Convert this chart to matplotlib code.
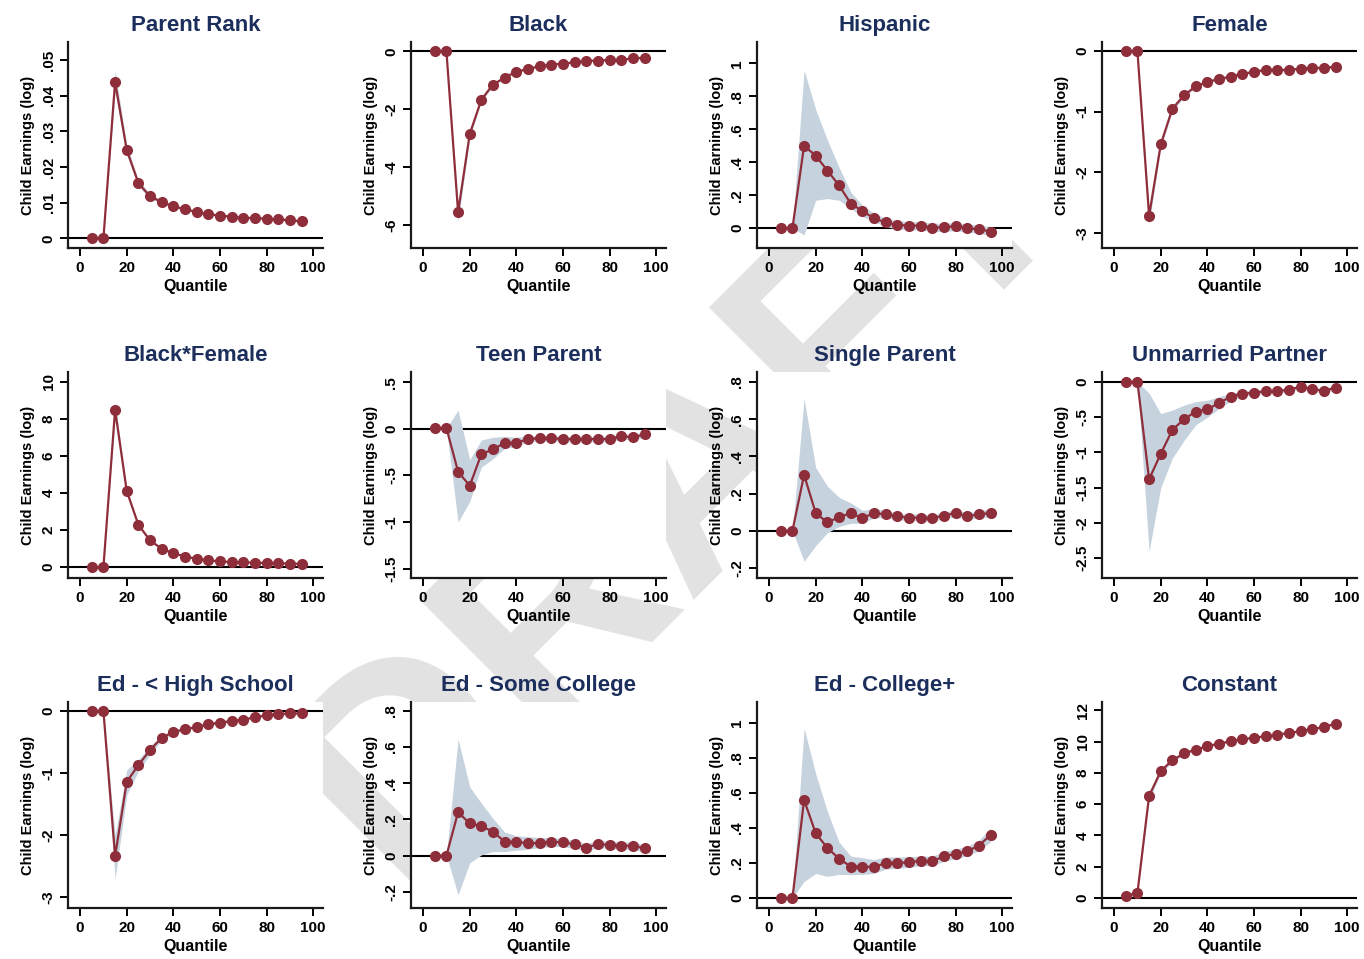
import numpy as np
import matplotlib
matplotlib.use("Agg")
import matplotlib.pyplot as plt

plt.rcParams['font.family'] = ['Liberation Sans', 'DejaVu Sans']
plt.rcParams['font.weight'] = 'bold'

quantile = [5, 10, 15, 20, 25, 30, 35, 40, 45, 50, 55, 60, 65, 70, 75, 80, 85, 90, 95]

titles = ['Parent Rank', 'Black', 'Hispanic', 'Female',
          'Black*Female', 'Teen Parent', 'Single Parent', 'Unmarried Partner',
          'Ed - < High School', 'Ed - Some College', 'Ed - College+', 'Constant']

est_parent = [0, 0, .0439, .0248, .0155, .0118, .0102, .0090, .0082, .0074, .0068, .0064, .0061, .0058, .0057, .0055, .0053, .0051, .0048]
lo_parent = [0, 0, .0410, .0235, .0146, .0112, .0097, .0086, .0078, .0071, .0065, .0061, .0058, .0055, .0054, .0052, .0050, .0048, .0045]
hi_parent = [0, 0, .0470, .0262, .0164, .0124, .0107, .0094, .0086, .0077, .0071, .0067, .0064, .0061, .0060, .0058, .0056, .0054, .0051]

est_black = [0, 0, -5.56, -2.86, -1.67, -1.15, -0.91, -0.70, -0.62, -0.51, -0.46, -0.43, -0.38, -0.33, -0.32, -0.30, -0.29, -0.25, -0.22]
lo_black = [0, 0, -5.90, -2.98, -1.74, -1.20, -0.95, -0.73, -0.65, -0.54, -0.48, -0.45, -0.40, -0.35, -0.34, -0.32, -0.31, -0.27, -0.24]
hi_black = [0, 0, -5.30, -2.74, -1.60, -1.10, -0.87, -0.67, -0.59, -0.48, -0.44, -0.41, -0.36, -0.31, -0.30, -0.28, -0.27, -0.23, -0.20]

est_hisp = [0, 0, .50, .44, .35, .26, .15, .105, .06, .036, .02, .016, .016, .004, .006, .012, 0, -.006, -.02]
lo_hisp = [0, 0, -.04, .17, .18, .17, .12, .07, .04, .01, -.005, -.01, -.01, -.02, -.02, -.015, -.025, -.03, -.045]
hi_hisp = [0, 0, .96, .72, .535, .37, .22, .14, .09, .06, .045, .04, .04, .03, .03, .035, .025, .02, .005]

est_female = [0, 0, -2.72, -1.54, -0.95, -0.73, -0.58, -0.51, -0.46, -0.42, -0.38, -0.34, -0.31, -0.31, -0.31, -0.29, -0.28, -0.275, -0.26]
lo_female = [0, 0, -2.85, -1.60, -0.99, -0.76, -0.60, -0.53, -0.48, -0.44, -0.40, -0.36, -0.33, -0.33, -0.33, -0.31, -0.30, -0.29, -0.28]
hi_female = [0, 0, -2.60, -1.48, -0.91, -0.70, -0.56, -0.49, -0.44, -0.40, -0.36, -0.32, -0.29, -0.29, -0.29, -0.27, -0.26, -0.26, -0.24]

est_bf = [0, 0, 8.5, 4.11, 2.28, 1.44, 0.99, 0.75, 0.57, 0.45, 0.36, 0.31, 0.27, 0.27, 0.23, 0.23, 0.22, 0.18, 0.18]
lo_bf = [0, 0, 8.1, 3.95, 2.20, 1.38, 0.95, 0.72, 0.54, 0.42, 0.33, 0.28, 0.24, 0.24, 0.20, 0.20, 0.19, 0.15, 0.15]
hi_bf = [0, 0, 8.9, 4.27, 2.36, 1.50, 1.03, 0.78, 0.60, 0.48, 0.39, 0.34, 0.30, 0.30, 0.26, 0.26, 0.25, 0.21, 0.21]

est_teen = [0.01, 0.01, -0.46, -0.61, -0.27, -0.22, -0.15, -0.15, -0.11, -0.10, -0.10, -0.11, -0.11, -0.11, -0.11, -0.11, -0.08, -0.09, -0.06]
lo_teen = [0, 0, -1.0, -0.78, -0.41, -0.32, -0.21, -0.19, -0.14, -0.13, -0.13, -0.14, -0.14, -0.14, -0.14, -0.14, -0.11, -0.12, -0.09]
hi_teen = [0.01, 0.01, 0.2, -0.33, -0.12, -0.09, -0.08, -0.09, -0.08, -0.07, -0.07, -0.08, -0.08, -0.08, -0.08, -0.08, -0.05, -0.06, -0.03]

est_single = [0, 0, .30, .095, .045, .073, .095, .068, .095, .089, .077, .071, .071, .068, .082, .095, .077, .089, .095]
lo_single = [0, 0, -.164, -.08, -.01, .023, .04, .04, .07, .07, .06, .055, .055, .05, .065, .075, .06, .07, .075]
hi_single = [0, 0, .71, .34, .24, .18, .15, .11, .12, .11, .095, .09, .09, .085, .10, .115, .095, .11, .115]

est_unmar = [0, 0, -1.38, -1.02, -0.68, -0.53, -0.42, -0.39, -0.30, -0.21, -0.165, -0.156, -0.13, -0.13, -0.11, -0.07, -0.10, -0.13, -0.08]
lo_unmar = [0, 0, -2.4, -1.5, -1.08, -0.83, -0.61, -0.50, -0.38, -0.27, -0.20, -0.19, -0.16, -0.16, -0.14, -0.10, -0.13, -0.16, -0.11]
hi_unmar = [0, 0, -0.16, -0.45, -0.40, -0.33, -0.28, -0.26, -0.21, -0.165, -0.13, -0.12, -0.10, -0.10, -0.08, -0.04, -0.07, -0.10, -0.05]

est_hs = [0, 0, -2.34, -1.14, -0.87, -0.63, -0.43, -0.34, -0.29, -0.26, -0.21, -0.19, -0.16, -0.14, -0.10, -0.07, -0.05, -0.04, -0.04]
lo_hs = [0, 0, -2.7, -1.35, -0.97, -0.70, -0.47, -0.37, -0.31, -0.28, -0.23, -0.21, -0.18, -0.16, -0.12, -0.09, -0.07, -0.06, -0.06]
hi_hs = [0, 0, -2.0, -0.95, -0.78, -0.56, -0.40, -0.31, -0.27, -0.24, -0.19, -0.17, -0.14, -0.12, -0.08, -0.05, -0.03, -0.02, -0.02]

est_some = [0, 0, .24, .178, .163, .132, .077, .077, .068, .07, .077, .073, .062, .044, .064, .059, .055, .055, .04]
lo_some = [0, 0, -.217, -.04, .004, .022, .022, .03, .035, .045, .05, .05, .04, .025, .045, .04, .035, .035, .02]
hi_some = [0, 0, .646, .38, .29, .205, .13, .11, .105, .10, .10, .095, .085, .065, .085, .08, .075, .075, .06]

est_coll = [0, 0, .56, .37, .286, .225, .18, .18, .177, .20, .20, .205, .213, .21, .238, .253, .267, .30, .36]
lo_coll = [0, 0, .095, .14, .124, .135, .133, .135, .14, .165, .17, .175, .185, .185, .21, .225, .24, .27, .32]
hi_coll = [0, 0, .97, .71, .495, .32, .24, .23, .22, .235, .235, .235, .24, .24, .265, .28, .295, .33, .40]

est_const = [0.15, 0.32, 6.52, 8.11, 8.81, 9.24, 9.49, 9.70, 9.87, 10.02, 10.15, 10.25, 10.34, 10.45, 10.55, 10.66, 10.79, 10.93, 11.15]
lo_const = [0.05, 0.20, 6.30, 7.95, 8.70, 9.15, 9.42, 9.63, 9.81, 9.96, 10.09, 10.19, 10.28, 10.39, 10.49, 10.60, 10.72, 10.85, 11.05]
hi_const = [0.25, 0.44, 6.74, 8.27, 8.92, 9.33, 9.56, 9.77, 9.93, 10.08, 10.21, 10.31, 10.40, 10.51, 10.61, 10.72, 10.86, 11.01, 11.25]

estimates = [est_parent, est_black, est_hisp, est_female, est_bf, est_teen,
             est_single, est_unmar, est_hs, est_some, est_coll, est_const]
lowers = [lo_parent, lo_black, lo_hisp, lo_female, lo_bf, lo_teen,
          lo_single, lo_unmar, lo_hs, lo_some, lo_coll, lo_const]
uppers = [hi_parent, hi_black, hi_hisp, hi_female, hi_bf, hi_teen,
          hi_single, hi_unmar, hi_hs, hi_some, hi_coll, hi_const]

ytick_values = [[0, .01, .02, .03, .04, .05], [-6, -4, -2, 0], [0, .2, .4, .6, .8, 1], [-3, -2, -1, 0],
                [0, 2, 4, 6, 8, 10], [-1.5, -1, -.5, 0, .5], [-.2, 0, .2, .4, .6, .8],
                [-2.5, -2, -1.5, -1, -.5, 0],
                [-3, -2, -1, 0], [-.2, 0, .2, .4, .6, .8], [0, .2, .4, .6, .8, 1],
                [0, 2, 4, 6, 8, 10, 12]]
ytick_labels = [['0', '.01', '.02', '.03', '.04', '.05'], ['-6', '-4', '-2', '0'],
                ['0', '.2', '.4', '.6', '.8', '1'], ['-3', '-2', '-1', '0'],
                ['0', '2', '4', '6', '8', '10'], ['-1.5', '-1', '-.5', '0', '.5'],
                ['-.2', '0', '.2', '.4', '.6', '.8'], ['-2.5', '-2', '-1.5', '-1', '-.5', '0'],
                ['-3', '-2', '-1', '0'], ['-.2', '0', '.2', '.4', '.6', '.8'],
                ['0', '.2', '.4', '.6', '.8', '1'], ['0', '2', '4', '6', '8', '10', '12']]

ylims = [(-0.0027, 0.0551), (-6.8, 0.32), (-0.12, 1.13), (-3.25, 0.15),
         (-0.59, 10.54), (-1.6, 0.61), (-0.254, 0.854), (-2.78, 0.14),
         (-3.17, 0.144), (-0.29, 0.85), (-0.057, 1.12), (-0.64, 12.53)]

red = '#8f2e3b'
band = '#c6d3df'
navy = '#1c2e5c'

W, H = 1364, 959
fig = plt.figure(figsize=(W / 100, H / 100), dpi=100)

# faint draft watermark, only seen in the margins around the plot regions
fig.text(0.50, 0.49, 'DRAFT', rotation=45, fontsize=205, fontweight='bold',
         color='#e2e2e2', ha='center', va='center', zorder=-1)

col_left = [68, 411, 757, 1102]
row_top = [42, 372, 702]
aw, ah = 255, 206

for i in range(12):
    r, c = divmod(i, 4)
    ax = fig.add_axes([col_left[c] / W, 1 - (row_top[r] + ah) / H, aw / W, ah / H])
    ax.set_facecolor('white')
    ax.axhline(0, color='black', lw=1.5, zorder=1)
    ax.fill_between(quantile, lowers[i], uppers[i], color=band, lw=0, zorder=2)
    ax.plot(quantile, estimates[i], color=red, lw=1.6, marker='o', ms=7,
            mec=red, mfc=red, zorder=3)
    ax.set_xlim(-5.2, 104.2)
    ax.set_ylim(*ylims[i])
    ax.set_xticks([0, 20, 40, 60, 80, 100])
    ax.set_yticks(ytick_values[i])
    ax.set_yticklabels(ytick_labels[i], rotation=90, va='center')
    for s in ['top', 'right']:
        ax.spines[s].set_visible(False)
    for s in ['left', 'bottom']:
        ax.spines[s].set_linewidth(1.6)
        ax.spines[s].set_color('#1a1a1a')
    ax.tick_params(direction='out', length=6, width=1.4, labelsize=11, pad=3)
    ax.set_xlabel('Quantile', fontsize=11.5, fontweight='bold', labelpad=3)
    ax.set_ylabel('Child Earnings (log)', fontsize=10.5, fontweight='bold', labelpad=5)
    ax.set_title(titles[i], fontsize=16, fontweight='bold', color=navy, pad=8)

fig.savefig('out.png', dpi=100)
